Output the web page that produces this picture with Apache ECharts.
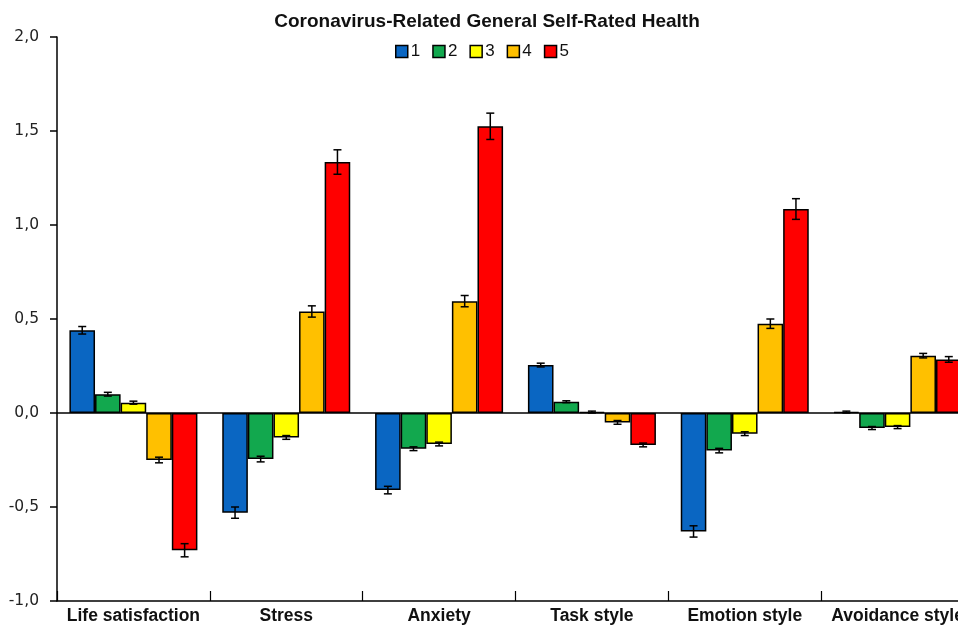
<!DOCTYPE html>
<html><head><meta charset="utf-8">
<script src="https://cdn.jsdelivr.net/npm/echarts@6/dist/echarts.min.js"></script>
<style>html,body{margin:0;padding:0;background:#fff;overflow:hidden}#c{width:975px;height:627px}</style>
</head><body><div id="c"></div>
<script>
const categories = ['Life satisfaction','Stress','Anxiety','Task style','Emotion style','Avoidance style'];
const groupNames = ['1','2','3','4','5'];
const values1 = [0.44, -0.53, -0.41, 0.255, -0.63, 0.005];
const values2 = [0.10, -0.245, -0.19, 0.06, -0.20, -0.08];
const values3 = [0.055, -0.13, -0.165, 0.005, -0.11, -0.075];
const values4 = [-0.25, 0.54, 0.595, -0.05, 0.475, 0.305];
const values5 = [-0.73, 1.335, 1.525, -0.17, 1.085, 0.285];
const err1 = [0.02, 0.03, 0.02, 0.01, 0.03, 0.005];
const err2 = [0.01, 0.015, 0.01, 0.005, 0.012, 0.008];
const err3 = [0.008, 0.01, 0.01, 0.005, 0.01, 0.008];
const err4 = [0.015, 0.03, 0.03, 0.01, 0.025, 0.012];
const err5 = [0.035, 0.065, 0.07, 0.01, 0.055, 0.015];
const yTicks = [-1.0, -0.5, 0.0, 0.5, 1.0, 1.5, 2.0];
const colors = ['#0A66C2','#12A84E','#FFFF00','#FFC000','#FF0000'];

const allValues = [values1, values2, values3, values4, values5];
const allErr = [err1, err2, err3, err4, err5];
const BAR_W = 25.6;

const series = [];
allValues.forEach((vals, i) => {
  const s = {
    name: groupNames[i], type: 'bar', data: vals, barWidth: BAR_W, barGap: '0%',
    itemStyle: {color: colors[i], borderColor: '#000', borderWidth: 1.5},
    z: 2
  };
  if (i === 0) {
    s.markLine = {silent: true, symbol: 'none', label: {show: false},
      lineStyle: {color: '#000', width: 1.5, type: 'solid'},
      data: [{yAxis: 0}], z: 1};
  }
  series.push(s);
});
allValues.forEach((vals, i) => {
  series.push({
    type: 'custom', silent: true, z: 5,
    data: vals.map((v, j) => [j, v, allErr[i][j]]),
    renderItem: function (params, api) {
      const idx = api.value(0), v = api.value(1), e = api.value(2);
      const base = api.coord([idx, v]);
      const off = (i - 2) * BAR_W;
      const x = base[0] + off;
      const top = api.coord([idx, v + e])[1];
      const bot = api.coord([idx, v - e])[1];
      const cap = 4;
      const st = {stroke: '#000', lineWidth: 1.5};
      return {type: 'group', children: [
        {type: 'line', shape: {x1: x, y1: top, x2: x, y2: bot}, style: st},
        {type: 'line', shape: {x1: x - cap, y1: top, x2: x + cap, y2: top}, style: st},
        {type: 'line', shape: {x1: x - cap, y1: bot, x2: x + cap, y2: bot}, style: st}
      ]};
    }
  });
});

const chart = echarts.init(document.getElementById('c'));
chart.setOption({
  animation: false,
  backgroundColor: '#fff',
  title: {text: 'Coronavirus-Related General Self-Rated Health', left: 482, top: 7, textAlign: 'center',
    textStyle: {fontFamily: 'Liberation Sans, Arial, sans-serif', fontWeight: 'bold', fontSize: 19, color: '#111'}},
  legend: {data: groupNames, left: 390, top: 38, itemWidth: 12, itemHeight: 12, itemGap: 12,
    icon: 'rect',
    itemStyle: {borderColor: '#000', borderWidth: 1.5},
    textStyle: {fontFamily: 'Liberation Sans, Arial, sans-serif', fontSize: 17, color: '#111', padding: [0,0,0,-2]}},
  grid: {left: 57, top: 37, right: 1, bottom: 26, containLabel: false},
  xAxis: {type: 'category', data: categories,
    axisLine: {onZero: false, lineStyle: {color: '#000', width: 1.5}},
    axisTick: {show: true, inside: true, length: 10, alignWithLabel: false, lineStyle: {color: '#000', width: 1.2}},
    axisLabel: {margin: 6, interval: 0, fontFamily: 'Liberation Sans, Arial, sans-serif',
      fontWeight: 'bold', fontSize: 17.5, color: '#111'},
    splitLine: {show: false}},
  yAxis: {type: 'value', min: -1, max: 2, interval: 0.5,
    axisLine: {show: true, lineStyle: {color: '#000', width: 1.5}},
    axisTick: {show: true, length: 7, lineStyle: {color: '#000', width: 1.5}},
    axisLabel: {margin: 18, fontFamily: 'DejaVu Sans, Verdana, sans-serif', fontSize: 15.5, color: '#222',
      formatter: v => v.toFixed(1).replace('.', ',')},
    splitLine: {show: false}},
  series: series
});
</script></body></html>
